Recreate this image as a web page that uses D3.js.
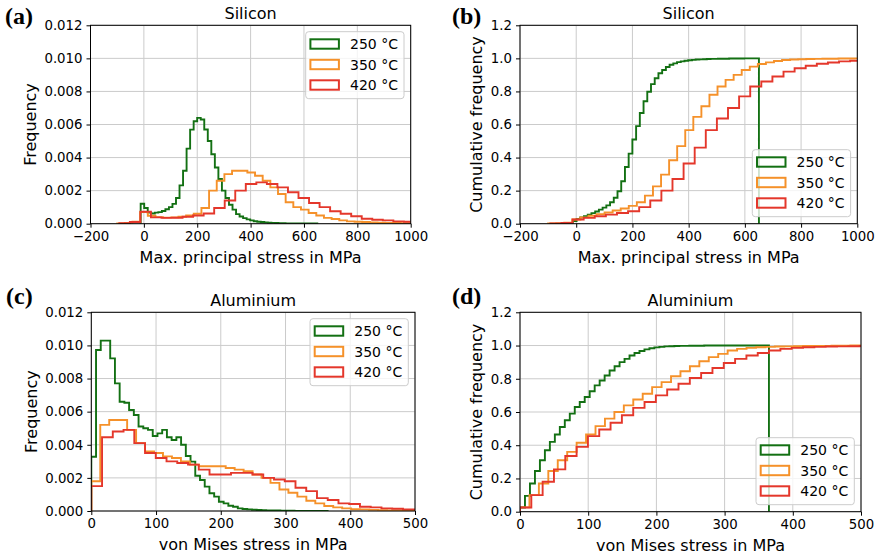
<!DOCTYPE html>
<html><head><meta charset="utf-8">
<script src="https://cdn.jsdelivr.net/npm/d3@7"></script>
<style>
body{margin:0;background:#fff}
svg{display:block}
text{font-family:"DejaVu Sans",sans-serif;fill:#000}
</style>
</head><body>
<svg id="chart" width="880" height="556"></svg>
<script>
// ---------- data ----------
const seriesNames = ["250 °C", "350 °C", "420 °C"];
const seriesColors = ["#137013", "#f5912a", "#e4372b"];

// Silicon histogram bins (start, width), 50 bins each
const siBinStart = [-12, -100, -92];
const siBinWidth = [13.24, 28.7, 39.5];
const siFreq250 = [0.00121,0.00095,0.00067,0.00062,0.00067,0.0007,0.00077,0.00087,0.001,0.0012,
  0.00155,0.00232,0.0032,0.00454,0.00569,0.0062,0.0064,0.0063,0.0057,0.005,
  0.0042,0.0034,0.0027,0.002,0.00155,0.00115,0.00085,0.00058,0.00044,0.00034,
  0.00026,0.0002,0.00015,0.00012,0.0001,0.00008,0.00006,0.00005,0.00004,0.00003,
  0.00003,0.00002,0.00002,0.00002,0.00002,0.00001,0.00001,0.00001,0.00001,0.00001];
const siFreq350 = [0.00002,0.00005,0.00012,0.0007,0.00048,0.0004,0.00037,0.00038,0.00042,0.0005,
  0.0006,0.00095,0.002,0.0026,0.003,0.0032,0.0032,0.0031,0.0029,0.0026,
  0.0022,0.0018,0.0013,0.001,0.00085,0.00065,0.0005,0.00035,0.00028,0.0002,
  0.00014,0.00012,0.0001,0.00008,0.00006,0.00005,0.00004,0.00003,0.00003,0.00002,
  0.00002,0.00002,0.00001,0.00001,0.00001,0.00001,0.00001,0.00001,0.00001,0.00001];
const siFreq420 = [0.00003,0.0001,0.00072,0.00038,0.00035,0.00036,0.00042,0.0005,0.00062,0.00095,
  0.0014,0.002,0.0024,0.0025,0.0024,0.0022,0.0019,0.00155,0.00125,0.001,
  0.00075,0.0006,0.00045,0.0003,0.00024,0.0002,0.00014,0.00012,0.0001,0.00008,
  0.00006,0.00005,0.00004,0.00003,0.00003,0.00002,0.00002,0.00002,0.00001,0.00001,
  0.00001,0.00001,0.00001,0.00001,0.00001,0.00001,0.00001,0.00001,0.00001,0.00001];
const siCum250 = [0.016,0.029,0.038,0.046,0.055,0.064,0.074,0.085,0.097,0.111,
  0.13,0.157,0.196,0.257,0.343,0.424,0.509,0.59,0.67,0.741,
  0.798,0.844,0.88,0.91,0.93,0.948,0.961,0.97,0.977,0.982,
  0.986,0.989,0.991,0.993,0.994,0.995,0.996,0.997,0.997,0.998,
  0.998,0.998,0.999,0.999,0.999,0.999,1,1,1,1];
const siCum350 = [0.001,0.003,0.006,0.025,0.038,0.048,0.058,0.068,0.08,0.092,
  0.108,0.13,0.17,0.226,0.297,0.384,0.469,0.566,0.646,0.71,
  0.78,0.83,0.87,0.9,0.93,0.95,0.966,0.976,0.984,0.99,
  0.993,0.995,0.996,0.997,0.998,0.998,0.999,0.999,1,1,
  1,1,1,1,1,1,1,1,1,1];
const siCum420 = [0.001,0.004,0.025,0.035,0.045,0.055,0.065,0.075,0.1,0.14,
  0.2,0.27,0.364,0.46,0.566,0.636,0.7,0.77,0.83,0.86,
  0.89,0.92,0.94,0.955,0.967,0.975,0.982,0.986,0.99,0.993,
  0.995,0.996,0.997,0.998,0.998,0.999,0.999,1,1,1,
  1,1,1,1,1,1,1,1,1,1];

// Aluminium histogram bins (start, width), 50 bins each
const alBinStart = [0, 0, 0];
const alBinWidth = [7.3, 13.84, 16.6];
const alFreq250 = [0.00328,0.00972,0.01029,0.01029,0.00922,0.00771,0.0066,0.00654,0.0061,0.0058,
  0.0051,0.005,0.0049,0.00453,0.00469,0.0049,0.00445,0.00429,0.00445,0.004,
  0.00332,0.00298,0.00213,0.00187,0.00147,0.00107,0.00087,0.00056,0.00046,0.00032,
  0.00026,0.00016,0.00012,0.0001,0.00008,0.00006,0.00005,0.00004,0.00003,0.00003,
  0.00002,0.00002,0.00002,0.00001,0.00001,0.00001,0.00001,0.00001,0.00001,0.00001];
const alFreq350 = [0.0018,0.0052,0.0055,0.0055,0.0049,0.0041,0.0036,0.0035,0.0033,0.0032,
  0.003,0.0028,0.0027,0.0027,0.0027,0.0026,0.0025,0.0024,0.0022,0.002,
  0.0017,0.0013,0.0011,0.00087,0.00062,0.00046,0.0003,0.00022,0.00016,0.00011,
  0.0001,0.00007,0.00005,0.00004,0.00003,0.00002,0.00002,0.00001,0.00001,0.00001,
  0.00001,0.00001,0.00001,0,0,0,0,0,0,0];
const alFreq420 = [0.0015,0.00445,0.0048,0.0049,0.0041,0.0035,0.0032,0.003,0.0029,0.0028,
  0.0025,0.0022,0.0022,0.0023,0.0023,0.0022,0.002,0.0019,0.0018,0.0014,
  0.0012,0.00078,0.00066,0.00046,0.00042,0.00026,0.00022,0.00016,0.00014,0.0001,
  0.0001,0.00008,0.00006,0.00005,0.00004,0.00003,0.00002,0.00002,0.00001,0.00001,
  0.00001,0.00001,0.00001,0.00001,0,0,0,0,0,0];
const alCum250 = [0.025,0.095,0.17,0.245,0.31,0.37,0.42,0.465,0.51,0.55,
  0.59,0.63,0.66,0.69,0.725,0.76,0.79,0.82,0.85,0.875,
  0.9,0.92,0.94,0.955,0.967,0.977,0.984,0.989,0.992,0.995,
  0.996,0.997,0.998,0.998,0.999,0.999,0.999,1,1,1,
  1,1,1,1,1,1,1,1,1,1];
const alCum350 = [0.026,0.1,0.17,0.245,0.31,0.36,0.415,0.465,0.515,0.56,
  0.6,0.64,0.675,0.71,0.75,0.78,0.815,0.845,0.875,0.905,
  0.93,0.95,0.97,0.98,0.986,0.99,0.992,0.994,0.995,0.996,
  0.997,0.998,0.998,0.999,0.999,1,1,1,1,1,
  1,1,1,1,1,1,1,1,1,1];
const alCum420 = [0.025,0.1,0.18,0.255,0.335,0.39,0.455,0.495,0.535,0.58,
  0.625,0.66,0.7,0.735,0.77,0.805,0.835,0.865,0.895,0.92,
  0.94,0.955,0.97,0.98,0.986,0.99,0.992,0.994,0.995,0.996,
  0.997,0.998,0.999,0.999,1,1,1,1,1,1,
  1,1,1,1,1,1,1,1,1,1];

const siXTicks = [-200, 0, 200, 400, 600, 800, 1000];
const alXTicks = [0, 100, 200, 300, 400, 500];
const freqTicks = [0, 0.002, 0.004, 0.006, 0.008, 0.010, 0.012];
const cumTicks = [0, 0.2, 0.4, 0.6, 0.8, 1.0, 1.2];

// ---------- layout ----------
const panels = [
  {id:"a", label:"(a)", title:"Silicon", box:[90.5,410.7,25.3,223.7], xDomain:[-200,1000], yDomain:[0,0.012],
   xTicks:siXTicks, yTicks:freqTicks, yFmt:".3f", xLabel:"Max. principal stress in MPa", yLabel:"Frequency",
   data:[siFreq250,siFreq350,siFreq420], start:siBinStart, width:siBinWidth, legend:"upper",
   labelPos:[5,24], yLabelX:36},
  {id:"b", label:"(b)", title:"Silicon", box:[520,857.3,25.3,223.7], xDomain:[-200,1000], yDomain:[0,1.2],
   xTicks:siXTicks, yTicks:cumTicks, yFmt:".1f", xLabel:"Max. principal stress in MPa", yLabel:"Cumulative frequency",
   data:[siCum250,siCum350,siCum420], start:siBinStart, width:siBinWidth, legend:"lower",
   labelPos:[452,24], yLabelX:481.5},
  {id:"c", label:"(c)", title:"Aluminium", box:[91.3,415,312.3,511], xDomain:[0,500], yDomain:[0,0.012],
   xTicks:alXTicks, yTicks:freqTicks, yFmt:".3f", xLabel:"von Mises stress in MPa", yLabel:"Frequency",
   data:[alFreq250,alFreq350,alFreq420], start:alBinStart, width:alBinWidth, legend:"upper",
   labelPos:[6,304], yLabelX:36.5},
  {id:"d", label:"(d)", title:"Aluminium", box:[520,861,312.3,511.7], xDomain:[0,500], yDomain:[0,1.2],
   xTicks:alXTicks, yTicks:cumTicks, yFmt:".1f", xLabel:"von Mises stress in MPa", yLabel:"Cumulative frequency",
   data:[alCum250,alCum350,alCum420], start:alBinStart, width:alBinWidth, legend:"lower",
   labelPos:[452,304], yLabelX:482}
];

const svg = d3.select("#chart");
const defs = svg.append("defs");

panels.forEach(p => {
  const [x0, x1, y0, y1] = p.box;
  const x = d3.scaleLinear().domain(p.xDomain).range([x0, x1]);
  const y = d3.scaleLinear().domain(p.yDomain).range([y1, y0]);
  const g = svg.append("g");

  defs.append("clipPath").attr("id", "clip-" + p.id)
    .append("rect").attr("x", x0).attr("y", y0).attr("width", x1 - x0).attr("height", y1 - y0);

  // grid
  const grid = g.append("g").attr("stroke", "#cbcbcb").attr("stroke-width", 1);
  p.xTicks.forEach(t => grid.append("line")
    .attr("x1", x(t)).attr("x2", x(t)).attr("y1", y0).attr("y2", y1));
  p.yTicks.forEach(t => grid.append("line")
    .attr("x1", x0).attr("x2", x1).attr("y1", y(t)).attr("y2", y(t)));

  // step histograms
  const line = d3.line().x(d => x(d[0])).y(d => y(d[1]));
  const plot = g.append("g").attr("clip-path", `url(#clip-${p.id})`);
  p.data.forEach((vals, si) => {
    const s = p.start[si], w = p.width[si];
    const pts = [[s, 0]];
    vals.forEach((v, i) => { pts.push([s + i * w, v]); pts.push([s + (i + 1) * w, v]); });
    pts.push([s + vals.length * w, 0]);
    plot.append("path").attr("d", line(pts)).attr("fill", "none")
      .attr("stroke", seriesColors[si]).attr("stroke-width", 1.9)
      .attr("stroke-linejoin", "miter");
  });

  // axes
  const xAxis = d3.axisBottom(x).tickValues(p.xTicks).tickSize(4).tickPadding(4).tickFormat(d3.format("d"));
  const yAxis = d3.axisLeft(y).tickValues(p.yTicks).tickSize(4).tickPadding(4).tickFormat(d3.format(p.yFmt));
  const gx = g.append("g").attr("transform", `translate(0,${y1})`).call(xAxis);
  const gy = g.append("g").attr("transform", `translate(${x0},0)`).call(yAxis);
  [gx, gy].forEach(a => {
    a.select(".domain").remove();
    a.selectAll("text").attr("font-size", "13.3px").attr("font-family", '"DejaVu Sans",sans-serif').attr("fill", "#000");
    a.selectAll("line").attr("stroke", "#000").attr("stroke-width", 1);
  });

  // spines
  g.append("rect").attr("x", x0).attr("y", y0).attr("width", x1 - x0).attr("height", y1 - y0)
    .attr("fill", "none").attr("stroke", "#000").attr("stroke-width", 1);

  // texts
  g.append("text").attr("x", (x0 + x1) / 2).attr("y", y0 - 6).attr("text-anchor", "middle")
    .attr("font-size", "16px").text(p.title);
  g.append("text").attr("x", (x0 + x1) / 2).attr("y", y1 + 39.3).attr("text-anchor", "middle")
    .attr("font-size", "16px").text(p.xLabel);
  g.append("text").attr("transform", `translate(${p.yLabelX},${(y0 + y1) / 2}) rotate(-90)`)
    .attr("text-anchor", "middle").attr("font-size", "16px").text(p.yLabel);
  g.append("text").attr("x", p.labelPos[0]).attr("y", p.labelPos[1])
    .attr("font-weight", "bold").attr("font-size", "24px")
    .style("font-family", '"Liberation Serif","Times New Roman",serif').text(p.label);

  // legend
  const lw = 98.3, lh = 67;
  const lx = x1 - 6.7 - lw;
  const ly = p.legend === "upper" ? y0 + 6.4 : y1 - 7 - lh;
  const lg = g.append("g");
  lg.append("rect").attr("x", lx).attr("y", ly).attr("width", lw).attr("height", lh)
    .attr("rx", 3).attr("fill", "#fff").attr("fill-opacity", 0.8).attr("stroke", "#cccccc").attr("stroke-width", 1);
  seriesNames.forEach((n, i) => {
    const cy = ly + 12.3 + i * 20.5;
    lg.append("rect").attr("x", lx + 4.7).attr("y", cy - 4.7).attr("width", 28.5).attr("height", 9.4)
      .attr("fill", "none").attr("stroke", seriesColors[i]).attr("stroke-width", 2);
    lg.append("text").attr("x", lx + 44.3).attr("y", cy).attr("dy", "0.36em")
      .attr("font-size", "14px").text(n);
  });
});
</script>
</body></html>
